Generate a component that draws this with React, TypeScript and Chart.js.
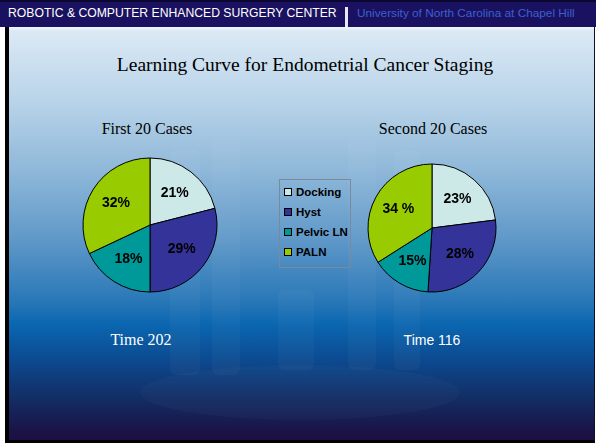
import React, { useEffect, useRef } from "react";
import { Chart, registerables } from "chart.js";
Chart.register(...registerables);

const categories = ["Docking", "Hyst", "Pelvic LN", "PALN"];
const firstValues = [21, 29, 18, 32];
const firstLabels = ["21%", "29%", "18%", "32%"];
const secondValues = [23, 28, 15, 34];
const secondLabels = ["23%", "28%", "15%", "34 %"];
const sliceColors = ["#cce9e8", "#333399", "#009999", "#99cc00"];

const mainTitle = "Learning Curve for Endometrial Cancer Staging";
const firstTitle = "First 20 Cases";
const secondTitle = "Second 20 Cases";
const firstTime = "Time 202";
const secondTime = "Time 116";

const labelPlugin = {
  id: "sliceLabels",
  afterDatasetsDraw(chart: any) {
    const ctx = chart.ctx;
    const meta = chart.getDatasetMeta(0);
    const texts: string[] = chart.options.plugins.sliceLabels.texts;
    ctx.save();
    ctx.font = "bold 14px 'Liberation Sans', Arial, sans-serif";
    ctx.fillStyle = "#000";
    ctx.textAlign = "center";
    ctx.textBaseline = "middle";
    meta.data.forEach((arc: any, i: number) => {
      const p = arc.getProps(["x", "y", "startAngle", "endAngle", "outerRadius"], true);
      const mid = (p.startAngle + p.endAngle) / 2;
      const r = p.outerRadius * 0.6;
      ctx.fillText(texts[i], p.x + Math.cos(mid) * r, p.y + Math.sin(mid) * r);
    });
    ctx.restore();
  },
};

function Pie({ values, texts, radius, left, top }: any) {
  const ref = useRef<HTMLCanvasElement>(null);
  useEffect(() => {
    const chart = new Chart(ref.current as HTMLCanvasElement, {
      type: "pie",
      data: {
        labels: categories,
        datasets: [
          {
            data: values,
            backgroundColor: sliceColors,
            borderColor: "#000",
            borderWidth: 1,
            radius: radius,
          } as any,
        ],
      },
      options: {
        responsive: false,
        animation: false,
        events: [],
        layout: { padding: 0 },
        plugins: {
          legend: { display: false },
          tooltip: { enabled: false },
          sliceLabels: { texts },
        } as any,
      },
      plugins: [labelPlugin],
    });
    return () => chart.destroy();
  }, []);
  return (
    <canvas
      ref={ref}
      width={160}
      height={160}
      style={{ position: "absolute", left, top, width: 160, height: 160 }}
    />
  );
}

const serif = "'Liberation Serif', 'Times New Roman', serif";
const sans = "'Liberation Sans', Arial, sans-serif";

export default function App() {
  useEffect(() => {
    document.body.style.margin = "0";
  }, []);
  const col = (l: number, w: number, t: number, h: number) => (
    <div
      style={{
        position: "absolute",
        left: l,
        top: t,
        width: w,
        height: h,
        background: "rgba(255,255,255,0.03)",
        borderRadius: 6,
      }}
    />
  );
  return (
    <div style={{ position: "absolute", left: 0, top: 0, width: 596, height: 445, background: "#fff", overflow: "hidden" }}>
      {/* header */}
      <div style={{ position: "absolute", left: 0, top: 0, width: 596, height: 27, background: "#1a1260", borderTop: "2px solid #0a0830", boxSizing: "border-box" }} />
      <div style={{ position: "absolute", left: 8, top: 6, fontFamily: sans, fontSize: 12.2, color: "#fff", whiteSpace: "nowrap" }}>
        ROBOTIC &amp; COMPUTER ENHANCED SURGERY CENTER
      </div>
      <div style={{ position: "absolute", left: 345, top: 7, width: 3, height: 21, background: "#e8e8f0" }} />
      <div style={{ position: "absolute", left: 357, top: 6, fontFamily: sans, fontSize: 11.8, color: "#3a60d0", whiteSpace: "nowrap" }}>
        University of North Carolina at Chapel Hill
      </div>
      {/* body */}
      <div
        style={{
          position: "absolute",
          left: 5,
          top: 27,
          width: 590,
          height: 416,
          boxSizing: "border-box",
          borderLeft: "4px solid #000",
          borderRight: "1px solid #101020",
          borderBottom: "3px solid #000",
          background:
            "linear-gradient(to bottom, #f2f6fb 0px, #dbe9f5 4px, #b9d4e9 73px, #8fb8d9 143px, #5f98c8 213px, #2a78b8 273px, #0a66b0 298px, #0c4a90 333px, #123068 368px, #1a1448 403px, #200c40 416px)",
        }}
      />
      {/* faint watermark columns */}
      {col(170, 30, 150, 225)}
      {col(212, 28, 140, 235)}
      {col(278, 36, 290, 80)}
      {col(348, 28, 140, 230)}
      {col(394, 26, 150, 220)}
      <div style={{ position: "absolute", left: 140, top: 365, width: 320, height: 55, borderRadius: "50%", background: "rgba(255,255,255,0.025)" }} />

      <div style={{ position: "absolute", left: 0, top: 54, width: 610, textAlign: "center", fontFamily: serif, fontSize: 19.5, color: "#000", whiteSpace: "nowrap" }}>
        {mainTitle}
      </div>
      <div style={{ position: "absolute", left: 47, top: 120, width: 200, textAlign: "center", fontFamily: serif, fontSize: 16, color: "#000" }}>
        {firstTitle}
      </div>
      <div style={{ position: "absolute", left: 333, top: 120, width: 200, textAlign: "center", fontFamily: serif, fontSize: 16, color: "#000" }}>
        {secondTitle}
      </div>

      <Pie values={firstValues} texts={firstLabels} radius={67} left={150 - 80} top={224.5 - 80} />
      <Pie values={secondValues} texts={secondLabels} radius={64} left={432 - 80} top={228 - 80} />

      {/* legend */}
      <div style={{ position: "absolute", left: 279, top: 179, width: 72, height: 89, boxSizing: "border-box", border: "1px solid #7a8a9a" }}>
        {categories.map((c, i) => (
          <div key={c} style={{ position: "absolute", left: 4, top: 6 + i * 20, height: 12, display: "flex", alignItems: "center", whiteSpace: "nowrap" }}>
            <div style={{ width: 8, height: 8, boxSizing: "border-box", border: "1px solid #000", background: sliceColors[i], marginRight: 4 }} />
            <span style={{ fontFamily: sans, fontWeight: "bold", fontSize: 11.5, color: "#000" }}>{c}</span>
          </div>
        ))}
      </div>

      <div style={{ position: "absolute", left: 41, top: 331, width: 200, textAlign: "center", fontFamily: serif, fontSize: 16, color: "#fff" }}>
        {firstTime}
      </div>
      <div style={{ position: "absolute", left: 332, top: 332, width: 200, textAlign: "center", fontFamily: sans, fontSize: 14, color: "#fff" }}>
        {secondTime}
      </div>
    </div>
  );
}
